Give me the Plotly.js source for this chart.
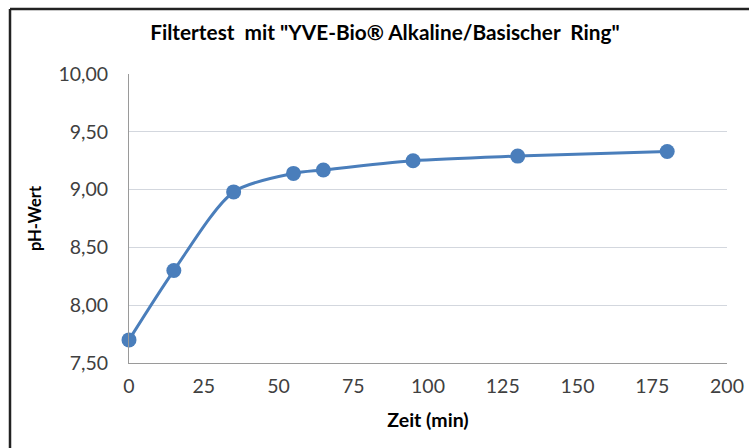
<!DOCTYPE html>
<html>
<head>
<meta charset="utf-8">
<script src="https://cdn.plot.ly/plotly-3.0.1.min.js"></script>
<style>
html,body{margin:0;padding:0;background:#fff;}
#chart{width:749px;height:448px;}
</style>
</head>
<body>
<div id="chart"></div>
<script>
const zeitMin = [0, 15, 35, 55, 65, 95, 130, 180];
const phWert = [7.70, 8.30, 8.98, 9.14, 9.17, 9.25, 9.29, 9.33];
const chartTitle = 'Filtertest  mit "YVE-Bio® Alkaline/Basischer  Ring"';
const xTitle = 'Zeit (min)';
const yTitle = 'pH-Wert';

const trace = {
  x: zeitMin,
  y: phWert,
  type: 'scatter',
  mode: 'lines+markers',
  line: {color: '#4A7EBB', width: 3, shape: 'spline', smoothing: 0.8},
  marker: {color: '#4A7EBB', size: 15},
  cliponaxis: false,
  hoverinfo: 'x+y'
};

const layout = {
  width: 749,
  height: 448,
  margin: {l: 129, r: 22, t: 74, b: 85},
  paper_bgcolor: '#ffffff',
  plot_bgcolor: '#ffffff',
  separators: ',.',
  showlegend: false,
  font: {family: 'Lato, "Open Sans", sans-serif', color: '#404040', size: 19},
  title: {
    text: '<b>' + chartTitle + '</b>',
    font: {family: 'Lato, "Open Sans", sans-serif', size: 20.8, color: '#000000'},
    x: 0.514, xanchor: 'center', y: 0.926, yanchor: 'middle'
  },
  xaxis: {
    range: [0, 200],
    tickvals: [0, 25, 50, 75, 100, 125, 150, 175, 200],
    showgrid: false,
    zeroline: false,
    showline: true,
    linecolor: '#9a9a9a',
    linewidth: 1,
    ticks: '',
    ticklabelstandoff: 6,
    tickfont: {size: 19.5, color: '#404040'},
    title: {text: '<b>' + xTitle + '</b>', font: {size: 19.5, color: '#000000'}, standoff: 16}
  },
  yaxis: {
    range: [7.5, 10],
    tickvals: [7.5, 8.0, 8.5, 9.0, 9.5, 10.0],
    tickformat: '.2f',
    showgrid: true,
    gridcolor: '#d3d7de',
    gridwidth: 1,
    zeroline: false,
    showline: true,
    linecolor: '#9a9a9a',
    linewidth: 1,
    ticks: '',
    ticklabelstandoff: 16,
    tickfont: {size: 19.5, color: '#404040'},
    title: {text: '<b>' + yTitle + '</b>', font: {size: 16.5, color: '#000000'}, standoff: 12}
  },
  shapes: [
    {type: 'line', xref: 'paper', yref: 'paper',
     x0: (10 - 129) / 598, x1: (10 - 129) / 598, y0: (363 - 9) / 289, y1: (363 - 450) / 289,
     line: {color: '#222222', width: 2.5}},
    {type: 'line', xref: 'paper', yref: 'paper',
     x0: (10 - 129) / 598, x1: (752 - 129) / 598, y0: (363 - 9) / 289, y1: (363 - 9) / 289,
     line: {color: '#222222', width: 2.5}}
  ]
};

Plotly.newPlot('chart', [trace], layout, {displayModeBar: false, staticPlot: true});
</script>
</body>
</html>
